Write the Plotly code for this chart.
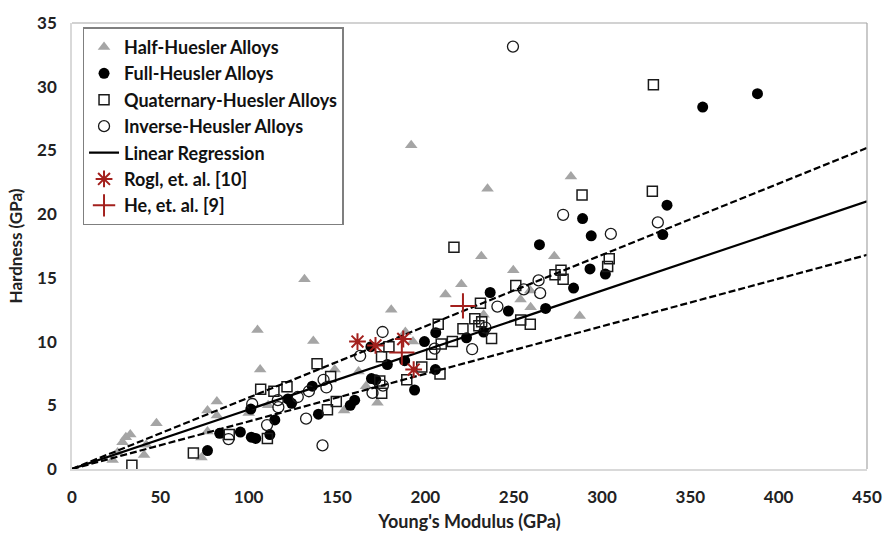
import plotly.graph_objects as go

# ---- data (Young's modulus GPa, Hardness GPa) ----
half_x = [23, 25.8, 28.6, 30.5, 33, 40.8, 42, 47.8, 73.3, 76.7, 76.7, 82, 82, 100, 105, 106.5, 111,
          131.6, 136.6, 148.7, 154, 162.2, 166.4, 172.9, 180.7, 188.7, 192, 193, 211.4, 220.4, 231.7,
          233, 235.2, 249.8, 253.9, 259.6, 259.4, 273, 282.4, 287.4]
half_y = [0.7, 1.3, 2.1, 2.5, 2.7, 1.1, 1.9, 3.6, 0.9, 2.95, 4.6, 5.3, 4.2, 4.4, 10.9, 7.8, 5.0,
          14.9, 10.05, 7.8, 4.6, 7.66, 6.5, 5.2, 12.5, 10.75, 25.4, 10.0, 13.7, 14.5, 16.7,
          12.1, 22.0, 15.6, 13.3, 12.7, 14.0, 16.7, 22.95, 12.0]

full_x = [76.7, 83.6, 95.3, 101.5, 104, 112, 101.2, 114.8, 122.2, 124.3, 136, 139.5, 157.5, 160,
          169.2, 169.5, 178.5, 172, 188.3, 193.9, 199.5, 205.7, 205.9, 223.3, 233, 236.7, 247,
          264.6, 268.1, 283.9, 289, 293.9, 293.2, 301.9, 334.4, 336.8, 357, 388]
full_y = [1.45, 2.8, 2.9, 2.5, 2.4, 2.7, 4.7, 3.85, 5.5, 5.15, 6.5, 4.3, 5.0, 5.4,
          9.6, 7.1, 8.2, 7.0, 8.5, 6.2, 10.0, 7.8, 10.7, 10.3, 10.75, 13.85, 12.4,
          17.6, 12.6, 14.2, 19.65, 18.3, 15.7, 15.3, 18.4, 20.7, 28.4, 29.45]

quat_x = [33.9, 68.7, 89, 106.8, 110.6, 114.3, 121.7, 138.7, 144.6, 146.4, 149.6, 174.2, 175.3,
          175.2, 179.4, 189.5, 198, 203.6, 208.3, 209, 215.3, 216.2, 221.3, 228, 230.3, 231.9,
          231.2, 237.5, 251.2, 254, 259.4, 273.4, 276.8, 278, 288.7, 303.2, 304.1, 328.5, 329.1, 207.3]
quat_y = [0.3, 1.25, 2.7, 6.25, 2.4, 6.1, 6.45, 8.25, 4.65, 7.25, 5.3, 6.9, 5.95,
          8.8, 9.6, 7.0, 8.0, 9.0, 7.45, 9.8, 10.0, 17.4, 11.0, 11.8, 11.25, 11.55,
          13.0, 10.25, 14.4, 11.7, 11.35, 15.25, 15.6, 14.9, 21.5, 15.9, 16.5, 21.8, 30.15, 11.35]

inv_x = [88.6, 102, 110.4, 116.5, 116.8, 127.8, 132.5, 134.1, 142.4, 144, 141.8, 163.1, 170.1,
         176, 175.8, 205.3, 226.5, 234, 240.8, 249.6, 255.7, 264.1, 265, 278, 305, 331.6]
inv_y = [2.35, 5.1, 3.45, 5.4, 4.85, 5.65, 3.95, 6.1, 7.0, 6.4, 1.85, 8.87, 5.97,
         6.55, 10.75, 9.45, 9.4, 11.1, 12.75, 33.15, 14.1, 14.8, 13.8, 19.95, 18.45, 19.35]

rogl_x = [161.6, 171.8, 187.5, 193.4]
rogl_y = [10.0, 9.7, 10.2, 7.8]

he_x = [186.7, 221.3]
he_y = [9.15, 12.8]

reg_x = [0, 450]
reg_y = [0, 21.0]
upper_y = [0, 25.2]
lower_y = [0, 16.8]

x_ticks = [0, 50, 100, 150, 200, 250, 300, 350, 400, 450]
y_ticks = [0, 5, 10, 15, 20, 25, 30, 35]

FONT = "Lato"
RED = "#a3201d"
GREY = "#a5a5a5"
TXT = "#222222"

fig = go.Figure()

fig.add_trace(go.Scatter(x=half_x, y=half_y, mode="markers", name="Half-Huesler Alloys",
                         legendgroup="a",
                         marker=dict(symbol="triangle-up", size=11, color=GREY, line=dict(width=0))))
fig.add_trace(go.Scatter(x=full_x, y=full_y, mode="markers", name="Full-Heusler Alloys",
                         legendgroup="b",
                         marker=dict(symbol="circle", size=11, color="black", line=dict(width=0))))
fig.add_trace(go.Scatter(x=quat_x, y=quat_y, mode="markers", name="Quaternary-Huesler Alloys",
                         legendgroup="c",
                         marker=dict(symbol="square-open", size=10, color="#1a1a1a", line=dict(width=1.5))))
fig.add_trace(go.Scatter(x=inv_x, y=inv_y, mode="markers", name="Inverse-Heusler Alloys",
                         legendgroup="d",
                         marker=dict(symbol="circle-open", size=11, color="#1a1a1a", line=dict(width=1.3))))
fig.add_trace(go.Scatter(x=reg_x, y=reg_y, mode="lines", name="Linear Regression",
                         legendgroup="e", line=dict(color="black", width=2.2)))
fig.add_trace(go.Scatter(x=reg_x, y=upper_y, mode="lines", showlegend=False,
                         line=dict(color="black", width=2.2, dash="7px,3px")))
fig.add_trace(go.Scatter(x=reg_x, y=lower_y, mode="lines", showlegend=False,
                         line=dict(color="black", width=2.2, dash="7px,3px")))
fig.add_trace(go.Scatter(x=rogl_x, y=rogl_y, mode="markers", name="Rogl, et. al. [10]",
                         legendgroup="f",
                         marker=dict(symbol="asterisk-open", size=14, color=RED, line=dict(width=2, color=RED))))
fig.add_trace(go.Scatter(x=he_x, y=he_y, mode="markers", name="He, et. al. [9]",
                         legendgroup="g",
                         marker=dict(symbol="cross-thin-open", size=18, color=RED, line=dict(width=2, color=RED))))

fig.update_layout(
    width=894, height=541,
    margin=dict(l=72, r=16, t=17, b=70),
    paper_bgcolor="white", plot_bgcolor="white",
    font=dict(family=FONT, size=16, color=TXT),
    showlegend=True,
    legend=dict(x=0.0135, y=0.99, xanchor="left", yanchor="top",
                bgcolor="white", bordercolor="#7f7f7f", borderwidth=1.3,
                font=dict(family=FONT, size=18, color="#111111", weight="bold"),
                tracegroupgap=1, itemwidth=30, traceorder="normal"),
    xaxis=dict(range=[0, 450], tickvals=x_ticks, ticks="", showgrid=False, zeroline=False,
               showline=True, linecolor="#d9d9d9", linewidth=1.5, ticklabelstandoff=12,
               tickfont=dict(family=FONT, size=17, weight="bold", color=TXT),
               title=dict(text="Young's Modulus (GPa)", standoff=9,
                          font=dict(family=FONT, size=18, weight="bold", color=TXT))),
    yaxis=dict(range=[0, 35], tickvals=y_ticks, ticks="", showgrid=False, zeroline=False,
               showline=True, linecolor="#d9d9d9", linewidth=1.5, ticklabelstandoff=10,
               tickfont=dict(family=FONT, size=17, weight="bold", color=TXT),
               title=dict(text="Hardness (GPa)", standoff=10,
                          font=dict(family=FONT, size=17, weight="bold", color=TXT))),
    shapes=[
        dict(type="line", xref="x domain", yref="y domain", x0=0, x1=1, y0=1, y1=1,
             line=dict(color="#a6a6a6", width=1.2)),
        dict(type="line", xref="x domain", yref="y domain", x0=1, x1=1, y0=0, y1=1,
             line=dict(color="#a6a6a6", width=1.2)),
    ],
)

fig.write_html("out.html")
